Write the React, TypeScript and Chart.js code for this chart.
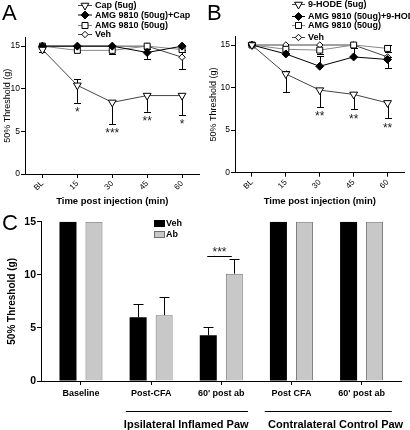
import React, { useEffect, useRef } from 'react';
import { Chart, registerables } from 'chart.js';

Chart.register(...registerables);

const FONT = 'Arial, "Liberation Sans", Helvetica, sans-serif';
Chart.defaults.font.family = FONT;
Chart.defaults.color = '#000';

// ---------- shared ----------
const timeLabels = ['BL', '15', '30', '45', '60'];
const yTicksAB = [0, 5, 10, 15];
const yTicksC = [0, 5, 10, 15];

// ---------- Panel A ----------
const aNames = ['Cap (5ug)', 'AMG 9810 (50ug)+Cap', 'AMG 9810 (50ug)', 'Veh'];
const aCap = [14.6, 10.4, 8.4, 9.2, 9.2];
const aCapUp = [0.3, 0.7, 0, 0, 0];
const aCapDown = [0.3, 2.05, 2.55, 1.9, 2.3];
const aAmgCap = [15, 15, 15, 14.25, 15];
const aAmgCapUp = [0, 0, 0, 0.4, 0];
const aAmgCapDown = [0, 0, 0, 0.75, 0];
const aAmg = [15, 14.5, 14.5, 15, 14.6];
const aAmgUp = [0, 0, 0, 0, 0];
const aAmgDown = [0, 0.2, 0.4, 0, 0.3];
const aVeh = [15, 15, 15, 15, 13.7];
const aVehUp = [0, 0, 0, 0, 0.8];
const aVehDown = [0, 0, 0, 0, 1.4];
const aStars = ['', '*', '***', '**', '*'];

// ---------- Panel B ----------
const bNames = ['9-HODE (5ug)', 'AMG 9810 (50ug)+9-HODE', 'AMG 9810 (50ug)', 'Veh'];
const bHode = [15, 11.6, 9.7, 9.2, 8.2];
const bHodeUp = [0, 0.4, 0, 0, 0];
const bHodeDown = [0, 2.15, 2.0, 1.75, 1.8];
const bAmgHode = [15, 13.95, 12.5, 13.6, 13.3];
const bAmgHodeUp = [0, 0, 1.2, 1.0, 0.3];
const bAmgHodeDown = [0, 0, 0, 0, 1.0];
const bAmg = [15, 14.5, 14.4, 15, 14.6];
const bAmgUp = [0, 0, 0, 0, 0.4];
const bAmgDown = [0, 0, 0.45, 0, 0.45];
const bVeh = [15, 15, 15, 15, 13.6];
const bVehUp = [0, 0, 0, 0, 0];
const bVehDown = [0, 0, 0, 0, 0];
const bStars = ['', '', '**', '**', '**'];

// ---------- Panel C ----------
const cCategories = ['Baseline', 'Post-CFA', "60' post ab", 'Post CFA', "60' post ab"];
const cSeriesNames = ['Veh', 'Ab'];
const cVeh = [15, 6.0, 4.3, 15, 15];
const cVehErr = [0, 1.24, 0.8, 0, 0];
const cAb = [15, 6.2, 10.1, 15, 15];
const cAbErr = [0, 1.75, 1.4, 0, 0];
const cSig = { category: 2, value: 11.8, from: -0.2, to: 0.15, text: '***' };
const cGroups = [
  { text: 'Ipsilateral Inflamed Paw', from: 0.64, to: 2.38, center: 1.5 },
  { text: 'Contralateral Control Paw', from: 2.62, to: 4.43, center: 3.63 },
];

type Series = {
  name: string;
  values: number[];
  up: number[];
  down: number[];
  marker: 'triDown' | 'diamond' | 'square' | 'smallDiamond';
  filled: boolean;
  color: string;
};

const markerCfg: Record<string, { pointStyle: string; rotation: number; radius: number }> = {
  triDown: { pointStyle: 'triangle', rotation: 180, radius: 4.5 },
  diamond: { pointStyle: 'rectRot', rotation: 0, radius: 4 },
  square: { pointStyle: 'rect', rotation: 0, radius: 4.2 },
  smallDiamond: { pointStyle: 'rectRot', rotation: 0, radius: 3.2 },
};

function drawMarker(ctx: CanvasRenderingContext2D, m: string, x: number, y: number, filled: boolean) {
  ctx.beginPath();
  if (m === 'triDown') {
    const r = 4.5;
    ctx.moveTo(x - r * 0.866, y - r * 0.5);
    ctx.lineTo(x + r * 0.866, y - r * 0.5);
    ctx.lineTo(x, y + r);
    ctx.closePath();
  } else if (m === 'diamond' || m === 'smallDiamond') {
    const r = m === 'diamond' ? 4 : 3.2;
    ctx.moveTo(x, y - r);
    ctx.lineTo(x + r, y);
    ctx.lineTo(x, y + r);
    ctx.lineTo(x - r, y);
    ctx.closePath();
  } else {
    const h = 3;
    ctx.rect(x - h, y - h, 2 * h, 2 * h);
  }
  ctx.fillStyle = filled ? '#000' : '#fff';
  ctx.fill();
  ctx.strokeStyle = '#000';
  ctx.lineWidth = 1;
  ctx.stroke();
}

const lineErrorPlugin = {
  id: 'lineErrors',
  beforeDatasetsDraw(chart: any) {
    const ctx = chart.ctx;
    const y = chart.scales.y;
    ctx.save();
    ctx.strokeStyle = '#000';
    ctx.lineWidth = 1;
    chart.data.datasets.forEach((ds: any, i: number) => {
      const meta = chart.getDatasetMeta(i);
      ds.data.forEach((v: number, j: number) => {
        const up = ds.errUp[j];
        const down = ds.errDown[j];
        if (!up && !down) return;
        const x = Math.round(meta.data[j].x) + 0.5;
        const yt = y.getPixelForValue(v + up);
        const yb = y.getPixelForValue(v - down);
        ctx.beginPath();
        ctx.moveTo(x, yt);
        ctx.lineTo(x, yb);
        if (up) {
          ctx.moveTo(x - 3.5, Math.round(yt) + 0.5);
          ctx.lineTo(x + 3.5, Math.round(yt) + 0.5);
        }
        if (down) {
          ctx.moveTo(x - 3.5, Math.round(yb) + 0.5);
          ctx.lineTo(x + 3.5, Math.round(yb) + 0.5);
        }
        ctx.stroke();
      });
    });
    ctx.restore();
  },
};

function starsPlugin(stars: string[]) {
  return {
    id: 'stars',
    afterDatasetsDraw(chart: any) {
      const ctx = chart.ctx;
      const y = chart.scales.y;
      const ds = chart.data.datasets[0];
      const meta = chart.getDatasetMeta(0);
      ctx.save();
      ctx.fillStyle = '#222';
      ctx.font = `12px ${FONT}`;
      ctx.textAlign = 'center';
      ctx.textBaseline = 'alphabetic';
      stars.forEach((s, j) => {
        if (!s) return;
        const cap = y.getPixelForValue(ds.data[j] - ds.errDown[j]);
        ctx.fillText(s, meta.data[j].x, cap + 6.5 + 6.8);
      });
      ctx.restore();
    },
  };
}

function legendPlugin(series: Series[], lx0: number, lx1: number, tx: number, rows: number[]) {
  return {
    id: 'customLegend',
    afterDraw(chart: any) {
      const ctx = chart.ctx;
      ctx.save();
      series.forEach((s, i) => {
        const yy = rows[i];
        ctx.strokeStyle = s.color;
        ctx.lineWidth = 1;
        ctx.beginPath();
        ctx.moveTo(lx0, yy + 0.5);
        ctx.lineTo(lx1, yy + 0.5);
        ctx.stroke();
        drawMarker(ctx, s.marker, (lx0 + lx1) / 2, yy + 0.5, s.filled);
        ctx.fillStyle = '#000';
        ctx.font = `bold 9px ${FONT}`;
        ctx.textAlign = 'left';
        ctx.textBaseline = 'middle';
        ctx.fillText(s.name, tx, yy + 1);
      });
      ctx.restore();
    },
  };
}

const axisGrid = {
  display: true,
  drawOnChartArea: false,
  drawTicks: true,
  tickLength: 4,
  color: '#000',
  tickColor: '#000',
  lineWidth: 1,
  offset: false,
};
const axisBorder = { display: true, color: '#000', width: 1 };

function lineConfig(
  series: Series[],
  stars: string[],
  lay: { top: number; right: number; yWidth: number; xHeight: number; yTitlePad: number },
  leg: { x0: number; x1: number; tx: number; rows: number[] }
): any {
  return {
    type: 'line',
    data: {
      labels: timeLabels,
      datasets: series.map((s) => {
        const m = markerCfg[s.marker];
        return {
          label: s.name,
          data: s.values,
          errUp: s.up,
          errDown: s.down,
          borderColor: s.color,
          borderWidth: 1,
          backgroundColor: s.filled ? '#000' : '#fff',
          pointStyle: m.pointStyle,
          pointRotation: m.rotation,
          pointRadius: m.radius,
          pointBorderColor: '#000',
          pointBackgroundColor: s.filled ? '#000' : '#fff',
          pointBorderWidth: 1,
          tension: 0,
          fill: false,
        };
      }),
    },
    options: {
      responsive: false,
      animation: false,
      devicePixelRatio: 1,
      events: [],
      layout: { padding: { left: 0, top: lay.top, right: lay.right, bottom: 0 } },
      plugins: { legend: { display: false }, tooltip: { enabled: false } },
      scales: {
        x: {
          type: 'category',
          offset: true,
          afterFit: (s: any) => {
            s.height = lay.xHeight;
          },
          grid: axisGrid,
          border: axisBorder,
          ticks: { color: '#000', font: { size: 8 }, minRotation: 45, maxRotation: 45, padding: 1, autoSkip: false },
          title: {
            display: true,
            text: 'Time post injection (min)',
            color: '#000',
            font: { size: 9.5, weight: 'bold' },
            padding: { top: 0, bottom: 7.8 },
          },
        },
        y: {
          min: 0,
          max: 16,
          afterBuildTicks: (s: any) => {
            s.ticks = yTicksAB.map((v) => ({ value: v }));
          },
          afterFit: (s: any) => {
            s.width = lay.yWidth;
          },
          grid: axisGrid,
          border: axisBorder,
          ticks: { color: '#000', font: { size: 8.5 }, padding: 1 },
          title: {
            display: true,
            text: '50% Threshold (g)',
            color: '#000',
            font: { size: 9 },
            padding: { top: lay.yTitlePad, bottom: 0 },
          },
        },
      },
    },
    plugins: [lineErrorPlugin, starsPlugin(stars), legendPlugin(series, leg.x0, leg.x1, leg.tx, leg.rows)],
  };
}

function configA() {
  const series: Series[] = [
    { name: aNames[0], values: aCap, up: aCapUp, down: aCapDown, marker: 'triDown', filled: false, color: '#444' },
    { name: aNames[1], values: aAmgCap, up: aAmgCapUp, down: aAmgCapDown, marker: 'diamond', filled: true, color: '#000' },
    { name: aNames[2], values: aAmg, up: aAmgUp, down: aAmgDown, marker: 'square', filled: false, color: '#888' },
    { name: aNames[3], values: aVeh, up: aVehUp, down: aVehDown, marker: 'smallDiamond', filled: false, color: '#444' },
  ];
  return lineConfig(
    series,
    aStars,
    { top: 37.6, right: 5, yWidth: 25, xHeight: 41, yTitlePad: 2 },
    { x0: 78, x1: 92, tx: 95, rows: [5, 14.5, 25, 34] }
  );
}

function configB() {
  const series: Series[] = [
    { name: bNames[0], values: bHode, up: bHodeUp, down: bHodeDown, marker: 'triDown', filled: false, color: '#444' },
    { name: bNames[1], values: bAmgHode, up: bAmgHodeUp, down: bAmgHodeDown, marker: 'diamond', filled: true, color: '#000' },
    { name: bNames[2], values: bAmg, up: bAmgUp, down: bAmgDown, marker: 'square', filled: false, color: '#888' },
    { name: bNames[3], values: bVeh, up: bVehUp, down: bVehDown, marker: 'smallDiamond', filled: false, color: '#444' },
  ];
  return lineConfig(
    series,
    bStars,
    { top: 36.5, right: 0, yWidth: 30, xHeight: 42.3, yTitlePad: 3.6 },
    { x0: 87, x1: 100, tx: 103, rows: [4, 16, 25, 37] }
  );
}

const barErrorPlugin = {
  id: 'barErrors',
  afterDatasetsDraw(chart: any) {
    const ctx = chart.ctx;
    const y = chart.scales.y;
    const x = chart.scales.x;
    ctx.save();
    ctx.strokeStyle = '#000';
    ctx.lineWidth = 1;
    chart.data.datasets.forEach((ds: any, i: number) => {
      const meta = chart.getDatasetMeta(i);
      ds.data.forEach((p: any, j: number) => {
        const e = ds.err[j];
        if (!e) return;
        const px = Math.round(meta.data[j].x) + 0.5;
        const y0 = y.getPixelForValue(p.y);
        const y1 = Math.round(y.getPixelForValue(p.y + e)) + 0.5;
        ctx.beginPath();
        ctx.moveTo(px, y0);
        ctx.lineTo(px, y1);
        ctx.moveTo(px - 5, y1);
        ctx.lineTo(px + 5, y1);
        ctx.stroke();
      });
    });
    // significance
    const sy = Math.round(y.getPixelForValue(cSig.value)) + 0.5;
    const sx0 = x.getPixelForValue(cSig.category + cSig.from);
    const sx1 = x.getPixelForValue(cSig.category + cSig.to);
    ctx.beginPath();
    ctx.moveTo(sx0, sy);
    ctx.lineTo(sx1, sy);
    ctx.stroke();
    ctx.fillStyle = '#222';
    ctx.font = `12px ${FONT}`;
    ctx.textAlign = 'center';
    ctx.textBaseline = 'alphabetic';
    ctx.fillText(cSig.text, (sx0 + sx1) / 2, sy - 7.4 + 6.8);
    ctx.restore();
  },
  afterDraw(chart: any) {
    const ctx = chart.ctx;
    const x = chart.scales.x;
    ctx.save();
    // groups
    ctx.strokeStyle = '#000';
    ctx.lineWidth = 1;
    ctx.fillStyle = '#000';
    ctx.font = `bold 11px ${FONT}`;
    ctx.textAlign = 'center';
    ctx.textBaseline = 'middle';
    cGroups.forEach((g) => {
      ctx.beginPath();
      ctx.moveTo(x.getPixelForValue(g.from), 199.5);
      ctx.lineTo(x.getPixelForValue(g.to), 199.5);
      ctx.stroke();
      ctx.fillText(g.text, x.getPixelForValue(g.center), 212.5);
    });
    // legend
    const colors = ['#000', '#c8c8c8'];
    const rows = [11.5, 22.5];
    ctx.font = `bold 9px ${FONT}`;
    ctx.textAlign = 'left';
    cSeriesNames.forEach((n, i) => {
      ctx.fillStyle = colors[i];
      ctx.fillRect(154, rows[i] - 3.5, 11, 7);
      if (i === 1) {
        ctx.strokeStyle = '#707070';
        ctx.strokeRect(154.5, rows[i] - 3, 10, 6);
      }
      ctx.fillStyle = '#000';
      ctx.fillText(n, 166, rows[i] + 0.5);
    });
    ctx.restore();
  },
};

function configC(): any {
  return {
    type: 'bar',
    data: {
      datasets: [
        {
          label: cSeriesNames[0],
          data: cVeh.map((v, i) => ({ x: i, y: v })),
          err: cVehErr,
          backgroundColor: '#000',
          borderColor: '#000',
          borderWidth: 0,
          barPercentage: 0.654,
          categoryPercentage: 0.7413,
        },
        {
          label: cSeriesNames[1],
          data: cAb.map((v, i) => ({ x: i, y: v })),
          err: cAbErr,
          backgroundColor: '#c8c8c8',
          borderColor: '#707070',
          borderWidth: 1,
          barPercentage: 0.654,
          categoryPercentage: 0.7413,
        },
      ],
    },
    options: {
      responsive: false,
      animation: false,
      devicePixelRatio: 1,
      events: [],
      layout: { padding: { left: 0, top: 9.7, right: 9, bottom: 0 } },
      plugins: { legend: { display: false }, tooltip: { enabled: false } },
      scales: {
        x: {
          type: 'linear',
          min: -0.57,
          max: 4.562,
          offset: false,
          afterBuildTicks: (s: any) => {
            s.ticks = cCategories.map((_, i) => ({ value: i }));
          },
          afterFit: (s: any) => {
            s.height = 49;
          },
          grid: axisGrid,
          border: axisBorder,
          ticks: {
            color: '#000',
            font: { size: 9, weight: 'bold' },
            maxRotation: 0,
            minRotation: 0,
            autoSkip: false,
            padding: 3,
            callback: (v: any) => cCategories[v] ?? '',
          },
        },
        y: {
          min: 0,
          max: 15,
          afterBuildTicks: (s: any) => {
            s.ticks = yTicksC.map((v) => ({ value: v }));
          },
          afterFit: (s: any) => {
            s.width = 41;
          },
          grid: axisGrid,
          border: axisBorder,
          ticks: { color: '#000', font: { size: 10.5, weight: 'bold' }, padding: 1 },
          title: {
            display: true,
            text: '50% Threshold (g)',
            color: '#000',
            font: { size: 10, weight: 'bold' },
            padding: { top: 6, bottom: 0 },
          },
        },
      },
    },
    plugins: [barErrorPlugin],
  };
}

function ChartBox(props: { make: () => any; left: number; top: number; width: number; height: number }) {
  const ref = useRef<HTMLCanvasElement>(null);
  useEffect(() => {
    const chart = new Chart(ref.current as HTMLCanvasElement, props.make());
    return () => chart.destroy();
  }, []);
  return (
    <canvas
      ref={ref}
      width={props.width}
      height={props.height}
      style={{ position: 'absolute', left: props.left, top: props.top, width: props.width, height: props.height }}
    />
  );
}

const letterStyle = (left: number, top: number): React.CSSProperties => ({
  position: 'absolute',
  left,
  top,
  fontFamily: FONT,
  fontSize: 22,
  lineHeight: '22px',
  color: '#000',
});

export default function App() {
  return (
    <div style={{ position: 'absolute', left: 0, top: 0, width: 410, height: 430, background: '#fff', overflow: 'hidden' }}>
      <ChartBox make={configA} left={0} top={0} width={205} height={215} />
      <ChartBox make={configB} left={205} top={0} width={205} height={215} />
      <ChartBox make={configC} left={0} top={212} width={410} height={218} />
      <div style={letterStyle(2, 2)}>A</div>
      <div style={letterStyle(207, 2)}>B</div>
      <div style={letterStyle(2, 212)}>C</div>
    </div>
  );
}
